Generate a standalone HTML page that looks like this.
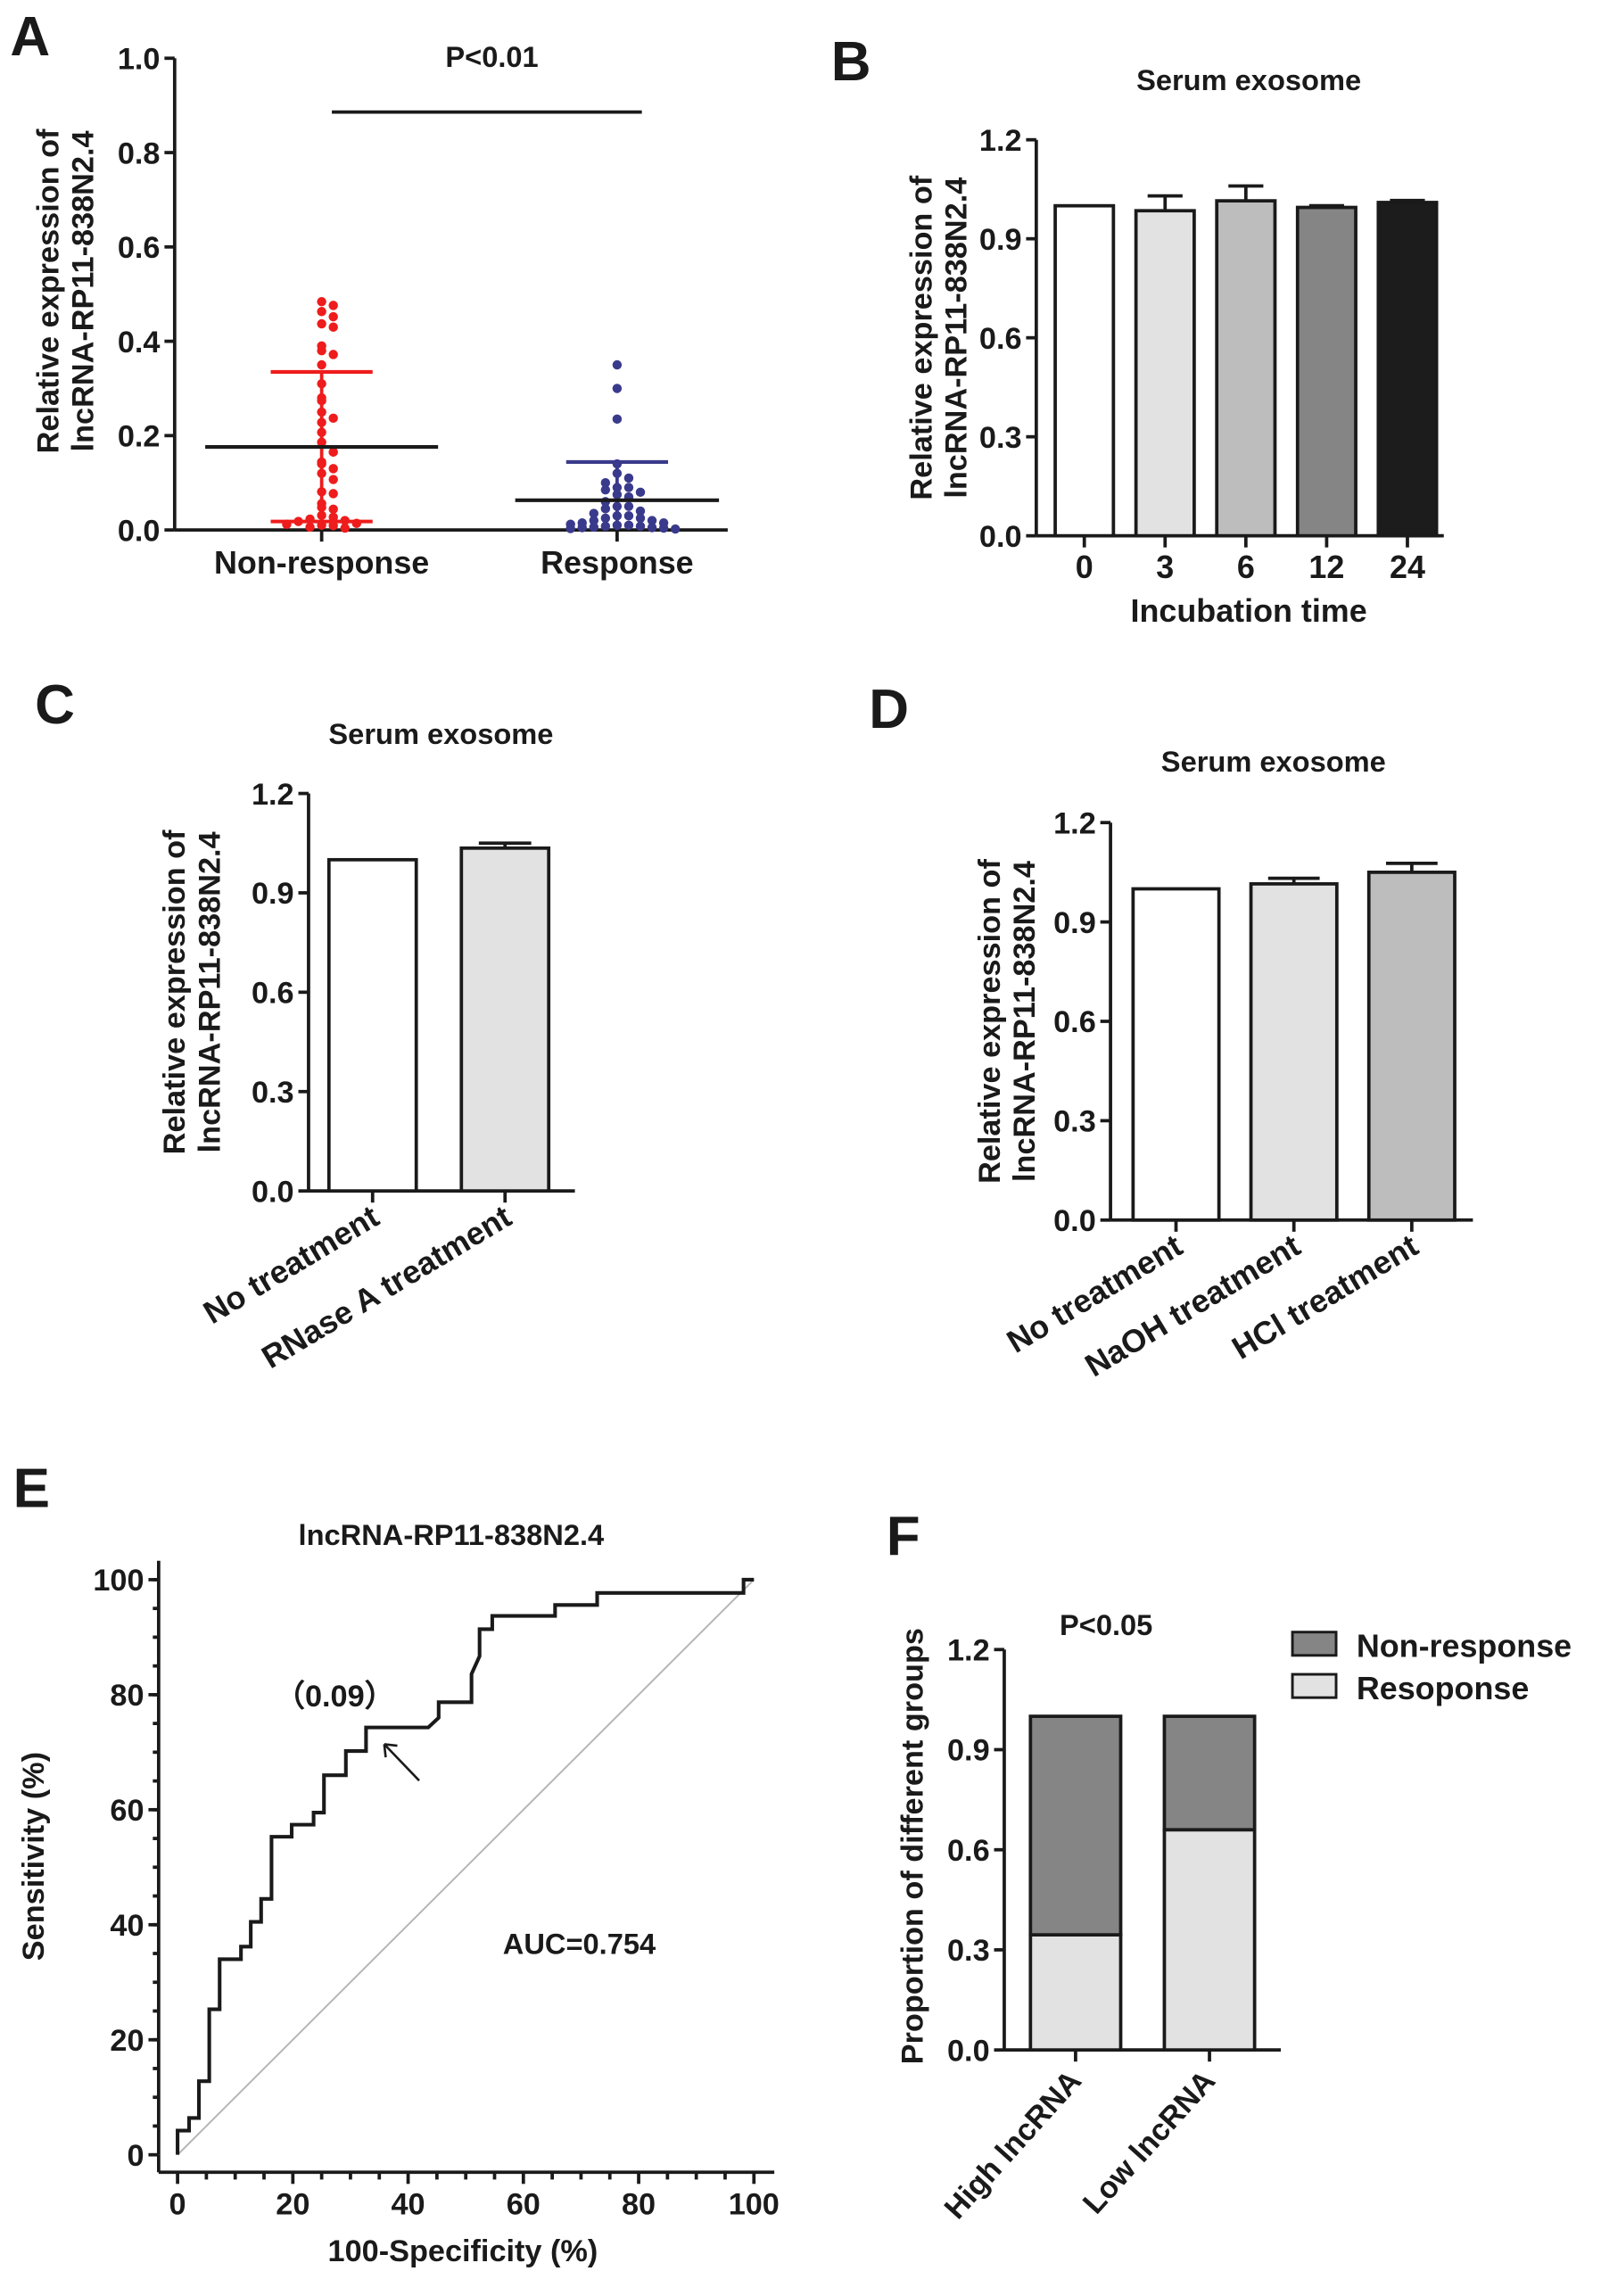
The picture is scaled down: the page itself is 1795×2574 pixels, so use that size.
<!DOCTYPE html>
<html><head><meta charset="utf-8"><style>
html,body{margin:0;padding:0;background:#fff;}
svg{display:block;}
text{font-family:"Liberation Sans",Arial,sans-serif;font-weight:bold;fill:#1a1a1a;}
</style></head><body>
<svg id="fig" xmlns="http://www.w3.org/2000/svg" width="1795" height="2574" viewBox="0 0 1100 1577" preserveAspectRatio="none"></svg>
<script>
// ---- Panel A data ----
const aCategories = ["Non-response", "Response"];
const aNonResp = [0.484,0.476,0.463,0.452,0.437,0.43,0.39,0.38,0.372,0.35,0.31,0.28,0.274,0.25,0.237,0.228,0.207,0.186,0.165,0.144,0.14,0.13,0.12,0.107,0.081,0.077,0.056,0.048,0.044,0.031,0.027,0.023,0.018,0.014,0.01,0.006,0.004,0.012,0.02,0.009];
const aResp = [0.35,0.30,0.235,0.14,0.12,0.11,0.10,0.09,0.09,0.085,0.08,0.075,0.07,0.06,0.05,0.05,0.045,0.04,0.035,0.03,0.03,0.025,0.025,0.02,0.02,0.015,0.015,0.012,0.01,0.01,0.008,0.008,0.006,0.005,0.005,0.004,0.003,0.002];
const aMeans = [0.176, 0.063];
const aSdTop = [0.335, 0.144];
const aSdBot = [0.018, 0];
const aTicks = [0, 0.2, 0.4, 0.6, 0.8, 1.0];
// ---- Panel B data ----
const bCategories = ["0","3","6","12","24"];
const bValues = [1.0, 0.985, 1.015, 0.995, 1.01];
const bErrors = [0, 0.045, 0.045, 0.005, 0.006];
const bTicks = [0, 0.3, 0.6, 0.9, 1.2];
// ---- Panel C data ----
const cCategories = ["No treatment","RNase A treatment"];
const cValues = [1.0, 1.035];
const cErrors = [0, 0.015];
// ---- Panel D data ----
const dCategories = ["No treatment","NaOH treatment","HCl treatment"];
const dValues = [1.0, 1.015, 1.05];
const dErrors = [0, 0.017, 0.027];
// ---- Panel E data (ROC vertices) ----
const eFpr = [0,0,2,2,3.7,3.7,5.5,5.5,7.3,7.3,11,11,12.7,12.7,14.5,14.5,16.3,16.3,19.8,19.8,23.6,23.6,25.4,25.4,29.2,29.2,32.7,32.7,43.5,45.3,45.3,51,51,52.4,52.4,54.6,54.6,65.5,65.5,72.8,72.8,98.2,98.2,100];
const eTpr = [0,4.2,4.2,6.4,6.4,12.8,12.8,25.3,25.3,34,34,36.2,36.2,40.5,40.5,44.5,44.5,55.3,55.3,57.4,57.4,59.5,59.5,66,66,70.2,70.2,74.3,74.3,76,78.7,78.7,83.6,86.7,91.4,91.4,93.7,93.7,95.6,95.6,97.7,97.7,100,100];
const eTicks = [0,20,40,60,80,100];
// ---- Panel F data ----
const fCategories = ["High lncRNA","Low lncRNA"];
const fResponse = [0.345, 0.66];
const fNonResponse = [0.655, 0.34];

const NS = "http://www.w3.org/2000/svg";
const svg = document.getElementById("fig");
function el(tag, attrs, parent){
  const e = document.createElementNS(NS, tag);
  for (const k in attrs) e.setAttribute(k, attrs[k]);
  (parent||svg).appendChild(e);
  return e;
}
function txt(s, x, y, size, anchor, extra){
  const t = el("text", Object.assign({x:x, y:y, "font-size":size, "text-anchor":anchor||"start"}, extra||{}));
  t.textContent = s;
  return t;
}
function line(x1,y1,x2,y2,w,c){
  return el("line",{x1:x1,y1:y1,x2:x2,y2:y2,stroke:c||"#1a1a1a","stroke-width":w||2.3});
}
function yTitle(lines, xs, cy, size){
  lines.forEach((s,i)=>{
    const t = txt(s, 0, 0, size, "middle", {transform:`translate(${xs[i]},${cy}) rotate(-90)`});
    
    
  });
}
function yAxis(x, y0, y1, ticks, scale, fmt, top){
  const ax = line(x, top!==undefined?top:y1, x, y0);
  
  
  ticks.forEach(v=>{
    const y = scale(v);
    line(x-7, y, x, y);
    const t = txt(fmt(v), x-10, y+7.5, 21, "end");
    
    
  });
}
function panelLetter(s,x,y){
  const t = txt(s,x,y,38,"start");
  
  
}
const yLines = ["Relative expression of","lncRNA-RP11-838N2.4"];

// ================= Panel A =================
panelLetter("A",7,38);
{
  const ax0=120, y0=364, y1=40, xEnd=500;
  const ys = v => y0 - v*(y0-y1)/1.0;
  yAxis(ax0, y0, y1, aTicks, ys, v=>v.toFixed(1));
  const xa = line(ax0, y0, xEnd, y0);
  
  
  const centers=[221,424];
  aCategories.forEach((c,i)=>{
    line(centers[i], y0, centers[i], y0+8);
    const t = txt(c, centers[i], 394, 22, "middle");
    
    
  });
  yTitle(yLines,[40,64],200,21);
  const sig = line(228, 77, 441, 77, 2.3);
  
  
  const p = txt("P<0.01", 338, 46, 20, "middle");
  
  
  const groups=[aNonResp,aResp], colors=["#ee1c1c","#3a3a8c"], sdw=[35,35], mw=[80,70];
  groups.forEach((g,gi)=>{
    const cx=centers[gi];
    const bins={};
    g.slice().sort((a,b)=>b-a).forEach(v=>{
      const b=Math.round(v/0.022);
      const k=bins[b]||0; bins[b]=k+1;
      const off = k===0?0:(k%2?1:-1)*Math.ceil(k/2)*8;
      const d=el("circle",{cx:cx+off,cy:ys(v),r:3.2,fill:colors[gi]});
      
      
    });
    const vl=line(cx, ys(aSdTop[gi]), cx, ys(aSdBot[gi]), 2.3, colors[gi]);
    
    
    const t1=line(cx-sdw[gi], ys(aSdTop[gi]), cx+sdw[gi], ys(aSdTop[gi]), 2.5, colors[gi]);
    
    
    if (aSdBot[gi]>0){
      const t2=line(cx-sdw[gi], ys(aSdBot[gi]), cx+sdw[gi], ys(aSdBot[gi]), 2.5, colors[gi]);
      
      
    }
    const m=line(cx-mw[gi], ys(aMeans[gi]), cx+mw[gi], ys(aMeans[gi]), 2.5, "#1a1a1a");
    
    
  });
}

// ===== generic bar panel =====
function barPanel(o){
  const ys = v => o.y0 - v*(o.y0-o.y1)/1.2;
  yAxis(o.ax, o.y0, o.y1, bTicks, ys, v=>v.toFixed(1));
  const xa = line(o.ax, o.y0, o.xEnd, o.y0);
  
  
  o.cats.forEach((c,i)=>{
    const cx = o.c0 + i*o.step;
    if (o.err[i]>0){
      const e1=line(cx, ys(o.vals[i]), cx, ys(o.vals[i]+o.err[i]), 2.3);
      
      
      line(cx-o.w*0.3, ys(o.vals[i]+o.err[i]), cx+o.w*0.3, ys(o.vals[i]+o.err[i]), 2.3);
    }
    const r=el("rect",{x:cx-o.w/2,y:ys(o.vals[i]),width:o.w,height:o.y0-ys(o.vals[i]),fill:o.fills[i],stroke:"#1a1a1a","stroke-width":2.3});
    
    
    line(cx, o.y0, cx, o.y0+8);
    let t;
    if (o.rot){
      t = txt(c, cx+6, o.y0+22, 22, "end", {transform:`rotate(${o.rot},${cx+6},${o.y0+22})`});
    } else {
      t = txt(c, cx, o.y0+29, 22, "middle");
    }
    
    
  });
  const tt = txt("Serum exosome", o.tx, o.ty, 20, "middle");
  
  
  yTitle(yLines, o.yt, (o.y0+o.y1)/2, 21);
}

// ================= Panel B =================
panelLetter("B",571,55);
barPanel({ax:712,y0:368,y1:96,xEnd:992,cats:bCategories,vals:bValues,err:bErrors,c0:745,step:55.5,w:40,
  fills:["#ffffff","#e2e2e2","#bdbdbd","#858585","#1c1c1c"],tx:858,ty:62,yt:[640,664]});
{
  const t=txt("Incubation time",858,427,22,"middle");
  
  
}
// ================= Panel C =================
panelLetter("C",24,497);
barPanel({ax:212,y0:818,y1:545,xEnd:395,cats:cCategories,vals:cValues,err:cErrors,c0:256,step:91,w:60,
  fills:["#ffffff","#e2e2e2"],tx:303,ty:511,yt:[127,151],rot:-31});
// ================= Panel D =================
panelLetter("D",597,500);
barPanel({ax:763,y0:838,y1:565,xEnd:1012,cats:dCategories,vals:dValues,err:dErrors,c0:808,step:81,w:59,
  fills:["#ffffff","#e2e2e2","#bdbdbd"],tx:875,ty:530,yt:[687,711],rot:-31});

// ================= Panel E =================
panelLetter("E",9,1035);
{
  const xs = v => 122 + v*3.96;
  const ys = v => 1480 - v*3.95;
  const axX=109, axY=1492;
  yAxis(axX, ys(0), ys(100), eTicks, ys, v=>String(v), 1072);
  line(axX, ys(0), axX, axY);
  const xa=line(axX, axY, 532, axY);
  
  
  for (let v=0; v<=100; v+=5){
    const big = v%20===0;
    line(xs(v), axY, xs(v), axY+(big?8:5));
    if (v<100){ line(axX-4, ys(v+5), axX, ys(v+5)); }
    if (big){
      const t=txt(String(v), xs(v), 1521, 21, "middle");
      
      
    }
  }
  const diag=line(xs(0),ys(0),xs(100),ys(100),1.2,"#b5b5b5");
  
  
  const pts = eFpr.map((f,i)=>xs(f)+","+ys(eTpr[i])).join(" ");
  const roc=el("polyline",{points:pts,fill:"none",stroke:"#1a1a1a","stroke-width":2.5});
  
  
  const title=txt("lncRNA-RP11-838N2.4",310,1061,20,"middle");
  
  
  const cut=txt("（0.09）",230,1172,21,"middle");
  
  
  const ar=line(288,1223,264,1198,1.6);
  
  
  line(264,1198,265,1207,1.6); line(264,1198,273,1199,1.6);
  const auc=txt("AUC=0.754",398,1342,20,"middle");
  
  
  const xt=txt("100-Specificity (%)",318,1553,21,"middle");
  
  
  yTitle(["Sensitivity (%)"],[30],1275,21);
}

// ================= Panel F =================
panelLetter("F",609,1068);
{
  const y0=1408, y1=1133;
  const ys = v => y0 - v*(y0-y1)/1.2;
  yAxis(690, y0, y1, bTicks, ys, v=>v.toFixed(1));
  const xa=line(690, y0, 880, y0);
  
  
  const centers=[739,831], w=62;
  fCategories.forEach((c,i)=>{
    const cx=centers[i];
    const r1=el("rect",{x:cx-w/2,y:ys(fResponse[i]),width:w,height:y0-ys(fResponse[i]),fill:"#e2e2e2",stroke:"#1a1a1a","stroke-width":2.3});
    
    
    const top=fResponse[i]+fNonResponse[i];
    const r2=el("rect",{x:cx-w/2,y:ys(top),width:w,height:ys(fResponse[i])-ys(top),fill:"#858585",stroke:"#1a1a1a","stroke-width":2.3});
    
    
    line(cx, y0, cx, y0+8);
    const t=txt(c, cx+5, y0+22, 21, "end", {transform:`rotate(-48,${cx+5},${y0+22})`});
    
    
  });
  const p=txt("P<0.05",760,1123,20,"middle");
  
  
  yTitle(["Proportion of different groups"],[634],1268,21);
  const lg1=el("rect",{x:888,y:1121,width:30,height:16,fill:"#858585",stroke:"#1a1a1a","stroke-width":1.8});
  
  
  const l1=txt("Non-response",932,1138,22,"start");
  
  
  const lg2=el("rect",{x:888,y:1150,width:30,height:16,fill:"#e2e2e2",stroke:"#1a1a1a","stroke-width":1.8});
  
  
  const l2=txt("Resoponse",932,1167,22,"start");
  
  
}
</script>
</body></html>
